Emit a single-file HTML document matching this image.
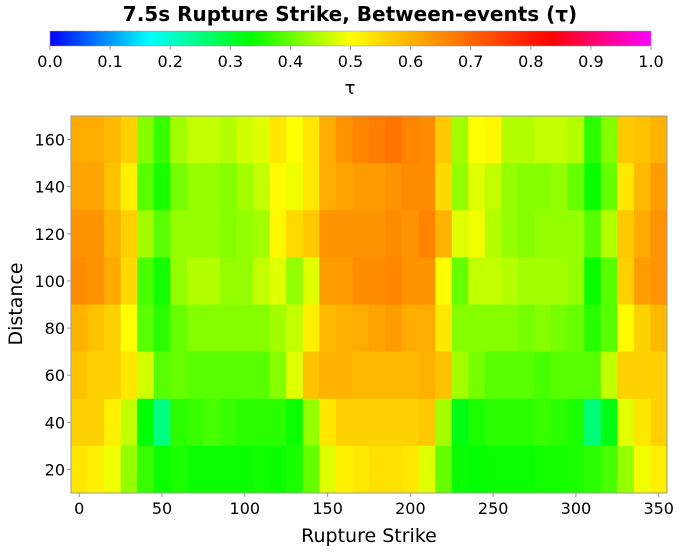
<!DOCTYPE html>
<html><head><meta charset="utf-8"><style>
body{margin:0;background:#fff;}
svg text{font-family:"DejaVu Sans","Liberation Sans",sans-serif;fill:#000;}
</style></head><body>
<svg id="chart" width="700" height="550" xmlns="http://www.w3.org/2000/svg">
<defs><linearGradient id="cb" x1="0" x2="1" y1="0" y2="0">
<stop offset="0" stop-color="#0000ff"/><stop offset="0.1667" stop-color="#00ffff"/><stop offset="0.3333" stop-color="#00ff00"/><stop offset="0.5" stop-color="#ffff00"/><stop offset="0.8333" stop-color="#ff0000"/><stop offset="1" stop-color="#ff00ff"/>
</linearGradient></defs>
<text x="350" y="21" text-anchor="middle" font-size="20" font-weight="bold">7.5s Rupture Strike, Between-events (τ)</text>
<rect x="50" y="31" width="601" height="15" fill="url(#cb)" stroke="#999" stroke-width="0.5"/>
<g id="cbticks"></g>
<text x="350" y="94" text-anchor="middle" font-size="18">τ</text>
<g id="cells"></g>
<rect x="71" y="116" width="596" height="377" fill="none" stroke="#999" stroke-width="1"/>
<g id="axes"></g>
<text x="369" y="542" text-anchor="middle" font-size="19">Rupture Strike</text>
<text transform="translate(22,304) rotate(-90)" text-anchor="middle" font-size="19">Distance</text>
</svg>
<script>
const strikes=[0,10,20,30,40,50,60,70,80,90,100,110,120,130,140,150,160,170,180,190,200,210,220,230,240,250,260,270,280,290,300,310,320,330,340,350];
const distances=[160,140,120,100,80,60,40,20];
const xTicks=[0,50,100,150,200,250,300,350];
const yTicks=[20,40,60,80,100,120,140,160];
const cbTicks=[0,0.1,0.2,0.3,0.4,0.5,0.6,0.7,0.8,0.9,1.0];
const row160=[0.61,0.61,0.59,0.56,0.42,0.37,0.44,0.46,0.46,0.45,0.47,0.48,0.53,0.5,0.53,0.61,0.64,0.66,0.67,0.68,0.66,0.65,0.57,0.44,0.5,0.51,0.45,0.45,0.46,0.46,0.45,0.36,0.42,0.57,0.58,0.6];
const row140=[0.62,0.62,0.58,0.52,0.39,0.35,0.41,0.43,0.43,0.42,0.44,0.46,0.505,0.49,0.53,0.61,0.62,0.63,0.63,0.64,0.65,0.65,0.55,0.43,0.48,0.46,0.43,0.42,0.42,0.43,0.40,0.34,0.40,0.53,0.59,0.63];
const row120=[0.64,0.64,0.6,0.56,0.44,0.39,0.43,0.43,0.43,0.42,0.43,0.44,0.51,0.55,0.57,0.64,0.64,0.64,0.64,0.65,0.64,0.66,0.6,0.48,0.49,0.45,0.43,0.42,0.43,0.43,0.43,0.39,0.45,0.57,0.61,0.64];
const row100=[0.65,0.64,0.61,0.55,0.38,0.345,0.43,0.45,0.45,0.43,0.43,0.46,0.48,0.43,0.48,0.63,0.63,0.65,0.65,0.66,0.64,0.64,0.505,0.40,0.46,0.46,0.45,0.44,0.44,0.44,0.43,0.34,0.39,0.56,0.63,0.64];
const row80=[0.6,0.58,0.56,0.5,0.39,0.36,0.40,0.42,0.42,0.42,0.42,0.42,0.44,0.46,0.52,0.59,0.6,0.61,0.62,0.63,0.61,0.61,0.53,0.42,0.42,0.42,0.42,0.41,0.42,0.41,0.4,0.36,0.39,0.505,0.56,0.59];
const row60=[0.58,0.56,0.56,0.53,0.47,0.39,0.40,0.39,0.39,0.39,0.39,0.39,0.42,0.48,0.58,0.6,0.6,0.59,0.59,0.59,0.59,0.6,0.58,0.44,0.41,0.39,0.39,0.39,0.38,0.39,0.39,0.39,0.46,0.56,0.56,0.56];
const row40=[0.56,0.56,0.52,0.46,0.33,0.25,0.36,0.37,0.38,0.37,0.36,0.36,0.36,0.34,0.43,0.53,0.56,0.56,0.56,0.56,0.56,0.57,0.44,0.32,0.35,0.36,0.36,0.36,0.37,0.36,0.35,0.255,0.32,0.48,0.53,0.56];
const row20=[0.53,0.52,0.49,0.43,0.37,0.34,0.35,0.34,0.34,0.34,0.34,0.345,0.34,0.35,0.40,0.48,0.52,0.53,0.54,0.54,0.53,0.48,0.40,0.34,0.335,0.34,0.34,0.34,0.345,0.345,0.35,0.36,0.38,0.43,0.49,0.52];
const rows=[row160,row140,row120,row100,row80,row60,row40,row20];

const NS='http://www.w3.org/2000/svg';
const X0=71,X1=667,Y0=116,Y1=493,XMIN=-5,XMAX=355,YMIN=10,YMAX=170;
const xs=v=>X0+(v-XMIN)/(XMAX-XMIN)*(X1-X0);
const ys=v=>Y1-(v-YMIN)/(YMAX-YMIN)*(Y1-Y0);
const stops=[[0,[0,0,255]],[1/6,[0,255,255]],[1/3,[0,255,0]],[0.5,[255,255,0]],[5/6,[255,0,0]],[1,[255,0,255]]];
function cmap(v){v=Math.max(0,Math.min(1,v));for(let i=1;i<stops.length;i++){if(v<=stops[i][0]){const a=stops[i-1],b=stops[i],t=(v-a[0])/(b[0]-a[0]);return 'rgb('+a[1].map((c,k)=>Math.round(c+(b[1][k]-c)*t)).join(',')+')';}}return 'rgb(255,0,255)';}
function mk(tag,attrs,parent){const e=document.createElementNS(NS,tag);for(const k in attrs)e.setAttribute(k,attrs[k]);parent.appendChild(e);return e;}
const cells=document.getElementById('cells');
rows.forEach((row,ri)=>{const d=distances[ri];row.forEach((v,ci)=>{const s=strikes[ci];
const x=xs(s-5),x2=xs(s+5),y=ys(d+10),y2=ys(d-10);
const r=mk('rect',{x:x,y:y,width:x2-x+0.5,height:y2-y+0.5,fill:cmap(v)},cells);

});});
const axes=document.getElementById('axes');
xTicks.forEach(t=>{const x=xs(t);
const l=mk('line',{x1:x,x2:x,y1:Y1,y2:Y1+4,stroke:'#999'},axes);


const tx=mk('text',{x:x,y:Y1+21,'text-anchor':'middle','font-size':'16'},axes);tx.textContent=t;

});
yTicks.forEach(t=>{const y=ys(t);
const l=mk('line',{x1:X0-4,x2:X0,y1:y,y2:y,stroke:'#999'},axes);


const tx=mk('text',{x:X0-6,y:y+6,'text-anchor':'end','font-size':'16'},axes);tx.textContent=t;

});
const cbt=document.getElementById('cbticks');
cbTicks.forEach(t=>{const x=50+t*601;
const l=mk('line',{x1:x,x2:x,y1:46,y2:50,stroke:'#999'},cbt);


const tx=mk('text',{x:x,y:67,'text-anchor':'middle','font-size':'16'},cbt);tx.textContent=t.toFixed(1);

});
</script>
</body></html>
